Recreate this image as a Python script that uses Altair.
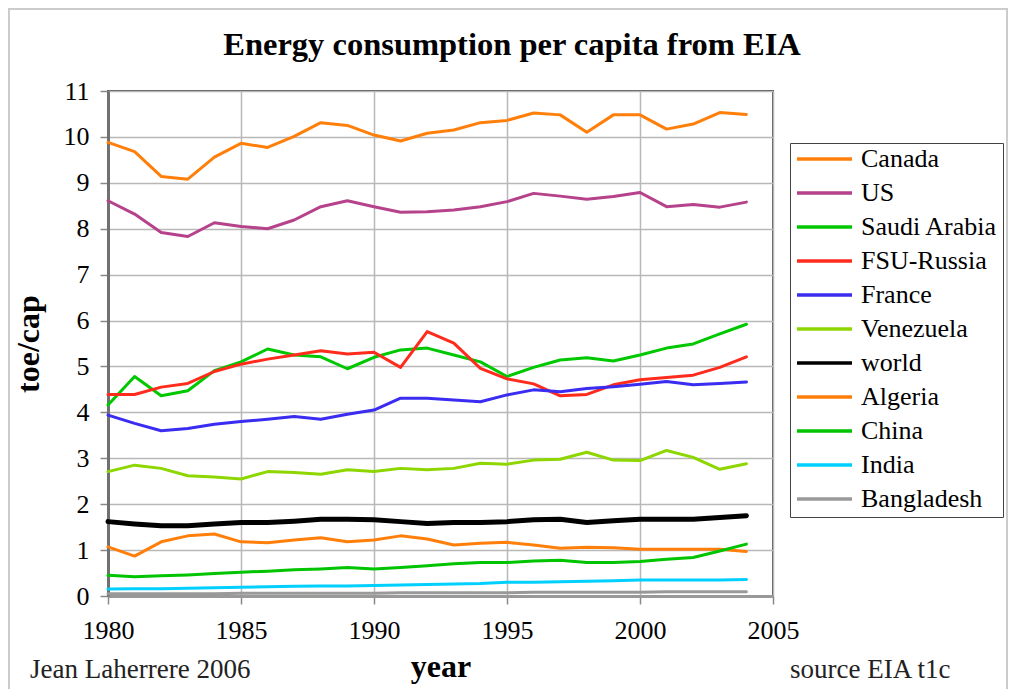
import altair as alt
import pandas as pd

years = list(range(1980, 2005))

series_names = ["Canada", "US", "Saudi Arabia", "FSU-Russia", "France", "Venezuela",
                "world", "Algeria", "China", "India", "Bangladesh"]
series_colors = ["#ff7f0a", "#b5428a", "#00c800", "#ff2b1c", "#3a2cf0", "#8ed600",
                 "#000000", "#ff7f0a", "#00c400", "#00d0ff", "#999999"]

canada = [9.88, 9.68, 9.14, 9.08, 9.56, 9.86, 9.77, 10.01, 10.31, 10.25, 10.04, 9.91, 10.08,
          10.15, 10.31, 10.36, 10.52, 10.48, 10.10, 10.48, 10.48, 10.17, 10.28, 10.53, 10.49]
us = [8.61, 8.32, 7.92, 7.83, 8.13, 8.05, 8.00, 8.19, 8.48, 8.61, 8.48, 8.36, 8.37,
      8.41, 8.48, 8.59, 8.77, 8.71, 8.64, 8.70, 8.79, 8.48, 8.53, 8.47, 8.58]
saudi = [4.16, 4.78, 4.36, 4.47, 4.91, 5.10, 5.38, 5.25, 5.21, 4.95, 5.20, 5.36, 5.40,
         5.25, 5.10, 4.78, 4.98, 5.14, 5.19, 5.12, 5.25, 5.40, 5.49, 5.71, 5.92]
russia = [4.39, 4.39, 4.55, 4.63, 4.89, 5.05, 5.16, 5.25, 5.34, 5.27, 5.31, 4.98, 5.76,
          5.51, 4.96, 4.73, 4.62, 4.36, 4.39, 4.60, 4.71, 4.76, 4.81, 4.98, 5.21]
france = [3.94, 3.76, 3.60, 3.65, 3.74, 3.80, 3.85, 3.91, 3.85, 3.96, 4.05, 4.31, 4.31,
          4.27, 4.23, 4.38, 4.49, 4.45, 4.52, 4.56, 4.61, 4.67, 4.60, 4.63, 4.66]
venezuela = [2.71, 2.85, 2.78, 2.62, 2.59, 2.55, 2.71, 2.69, 2.65, 2.75, 2.71, 2.78, 2.75,
             2.78, 2.89, 2.87, 2.96, 2.98, 3.13, 2.96, 2.95, 3.17, 3.02, 2.76, 2.88]
world = [1.62, 1.57, 1.53, 1.53, 1.57, 1.60, 1.60, 1.63, 1.67, 1.67, 1.66, 1.62, 1.58,
         1.60, 1.60, 1.62, 1.66, 1.67, 1.60, 1.64, 1.67, 1.67, 1.67, 1.71, 1.75]
algeria = [1.07, 0.87, 1.18, 1.31, 1.35, 1.18, 1.16, 1.22, 1.27, 1.18, 1.22, 1.31, 1.24,
           1.11, 1.15, 1.17, 1.11, 1.04, 1.06, 1.05, 1.02, 1.02, 1.02, 1.02, 0.97]
china = [0.45, 0.42, 0.44, 0.46, 0.49, 0.52, 0.54, 0.57, 0.59, 0.62, 0.59, 0.62, 0.66,
         0.70, 0.73, 0.73, 0.76, 0.78, 0.73, 0.73, 0.75, 0.80, 0.84, 0.98, 1.13]
india = [0.15, 0.16, 0.16, 0.17, 0.18, 0.19, 0.20, 0.21, 0.22, 0.22, 0.23, 0.24, 0.25,
         0.26, 0.27, 0.30, 0.30, 0.31, 0.32, 0.33, 0.35, 0.35, 0.35, 0.35, 0.36]
bangladesh = [0.05, 0.05, 0.05, 0.05, 0.05, 0.06, 0.06, 0.06, 0.06, 0.06, 0.06, 0.07, 0.07,
              0.07, 0.07, 0.07, 0.08, 0.08, 0.08, 0.08, 0.08, 0.09, 0.09, 0.09, 0.09]

series_values = [canada, us, saudi, russia, france, venezuela, world, algeria, china, india, bangladesh]

x_ticks = [1980, 1985, 1990, 1995, 2000, 2005]
y_ticks = list(range(0, 12))

title_text = "Energy consumption per capita from EIA"
footer_left = "Jean Laherrere 2006"
footer_right = "source EIA t1c"

rows = []
for i, (name, vals) in enumerate(zip(series_names, series_values)):
    for yr, v in zip(years, vals):
        rows.append({"series": name, "year": yr, "value": v, "order": i})
df = pd.DataFrame(rows)

FONT = "Liberation Serif"
one = pd.DataFrame({"a": [0]})

frame = alt.Chart(one).mark_rect(fill=None, stroke="#cccccc", strokeWidth=2).encode(
    x=alt.value(-99), x2=alt.value(899), y=alt.value(-82), y2=alt.value(640)
)

lines = alt.Chart(df).mark_line(strokeJoin="round", strokeCap="round").encode(
    x=alt.X("year:Q", scale=alt.Scale(domain=[1980, 2005], nice=False, zero=False),
            axis=alt.Axis(values=x_ticks, format="d", title="year", labelFlush=False)),
    y=alt.Y("value:Q", scale=alt.Scale(domain=[0, 11], nice=False),
            axis=alt.Axis(values=y_ticks, title="toe/cap")),
    color=alt.Color("series:N", sort=series_names,
                    scale=alt.Scale(domain=series_names, range=series_colors),
                    legend=alt.Legend(title=None, orient="none", legendX=682, legendY=52,
                                      padding=5, strokeColor="#444444",
                                      symbolType="stroke", symbolSize=3025, symbolStrokeWidth=3.5,
                                      clipHeight=22, rowPadding=8, labelOffset=7,
                                      labelFont=FONT, labelFontSize=26, labelColor="#000000")),
    strokeWidth=alt.condition(alt.datum.series == "world", alt.value(5), alt.value(3)),
    order=alt.Order("order:Q"),
)

title = alt.Chart(one).mark_text(text=title_text, font=FONT, fontSize=32.5, fontWeight="bold",
                                 align="center", baseline="alphabetic", color="#000000").encode(
    x=alt.value(404), y=alt.value(-36)
)
foot_l = alt.Chart(one).mark_text(text=footer_left, font=FONT, fontSize=27,
                                  align="left", baseline="alphabetic", color="#222222").encode(
    x=alt.value(-78), y=alt.value(587)
)
foot_r = alt.Chart(one).mark_text(text=footer_right, font=FONT, fontSize=27,
                                  align="left", baseline="alphabetic", color="#222222").encode(
    x=alt.value(682), y=alt.value(587)
)

chart = alt.layer(frame, lines, title, foot_l, foot_r).properties(
    width=665, height=505,
    padding={"left": 100, "top": 83, "right": 235, "bottom": 93},
    autosize=alt.AutoSizeParams(type="none"),
    background="#ffffff",
).configure_view(
    stroke="#555555", strokeWidth=2
).configure_axis(
    labelFont=FONT, labelFontSize=26, labelColor="#000000",
    titleFont=FONT, titleFontSize=32, titleFontWeight="bold", titleColor="#000000",
    gridColor="#b8b8b8", gridWidth=1.5, tickColor="#888888", tickWidth=1.5, tickSize=8,
).configure_axisY(
    labelPadding=11, titlePadding=18, domainColor="#707070", domainWidth=3,
).configure_axisX(
    labelPadding=13, titlePadding=8, domainColor="#999999", domainWidth=3,
)

chart.save("out.html", embed_options={"renderer": "svg", "actions": False})
